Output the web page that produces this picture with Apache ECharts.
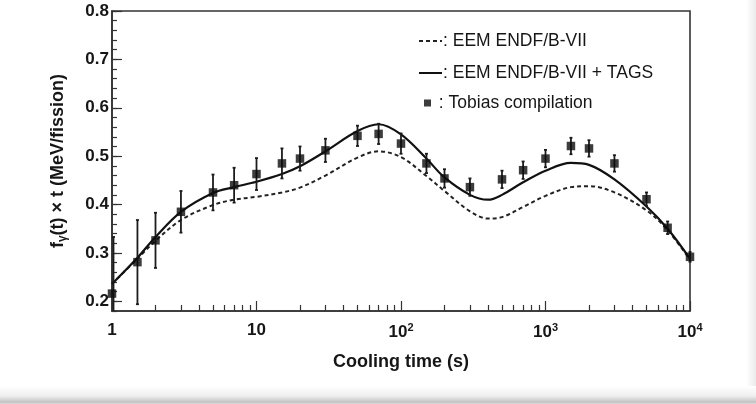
<!DOCTYPE html>
<html><head><meta charset="utf-8">
<script src="https://cdn.jsdelivr.net/npm/echarts@6/dist/echarts.min.js"></script>
<style>html,body{margin:0;padding:0;background:#fff}#c{width:756px;height:404px}</style>
</head><body><div id="c"></div>
<script>
// ---- data ----
const curveTimes = [1,1.5,2,3,5,7,10,15,20,30,50,70,100,150,200,300,400,500,700,1000,1500,2000,3000,5000,7000,10000];
const eemValues  = [0.236,0.288,0.325,0.368,0.399,0.410,0.416,0.425,0.435,0.460,0.497,0.510,0.498,0.459,0.428,0.386,0.371,0.374,0.395,0.418,0.436,0.438,0.425,0.388,0.347,0.286];
const tagsValues = [0.236,0.290,0.333,0.385,0.424,0.436,0.447,0.463,0.479,0.510,0.552,0.566,0.545,0.495,0.456,0.420,0.410,0.420,0.446,0.470,0.486,0.482,0.452,0.396,0.350,0.288];
const tobiasTimes  = [1,1.5,2,3,5,7,10,15,20,30,50,70,100,150,200,300,500,700,1000,1500,2000,3000,5000,7000,10000];
const tobiasValues = [0.216,0.281,0.326,0.385,0.425,0.440,0.463,0.485,0.495,0.512,0.542,0.546,0.526,0.485,0.454,0.436,0.452,0.471,0.495,0.521,0.516,0.485,0.411,0.352,0.292];
const tobiasErrors = [0.117,0.087,0.057,0.043,0.037,0.036,0.033,0.031,0.025,0.024,0.021,0.021,0.021,0.020,0.019,0.018,0.018,0.018,0.018,0.017,0.017,0.017,0.014,0.013,0.010];
const seriesNames = ['EEM ENDF/B-VII','EEM ENDF/B-VII + TAGS','Tobias compilation'];
const xMajorTicks = [1,10,100,1000,10000];
const xTickLabels = ['1','10','10{sup|2}','10{sup|3}','10{sup|4}'];
const xMinorTicks = [2,3,4,5,6,7,8,9,20,30,40,50,60,70,80,90,200,300,400,500,600,700,800,900,2000,3000,4000,5000,6000,7000,8000,9000];
const yMajorTicks = [0.2,0.3,0.4,0.5,0.6,0.7,0.8];
const yTickLabels = ['0.2','0.3','0.4','0.5','0.6','0.7','0.8'];
const yMinorTicks = [0.18,0.2,0.22,0.24,0.26,0.28,0.3,0.32,0.34,0.36,0.38,0.4,0.42,0.44,0.46,0.48,0.5,0.52,0.54,0.56,0.58,0.6,0.62,0.64,0.66,0.68,0.7,0.72,0.74,0.76,0.78,0.8];
const xTitle = 'Cooling time (s)';
const yTitle = 'f{sub|γ}(t) × t (MeV/fission)';

// ---- chart ----
const FONT = '"Liberation Sans", Arial, Helvetica, sans-serif';
const INK = '#161616';
const Y_MIN = 0.18, Y_MAX = 0.8;
const chart = echarts.init(document.getElementById('c'), null, {renderer: 'canvas'});

const eemData = curveTimes.map((t, i) => [t, eemValues[i]]);
const tagsData = curveTimes.map((t, i) => [t, tagsValues[i]]);
const tobiasData = tobiasTimes.map((t, i) => [t, tobiasValues[i], tobiasErrors[i]]);

const xLabelMap = {};
xMajorTicks.forEach((v, i) => { xLabelMap[v] = xTickLabels[i]; });
const yLabelMap = {};
yMajorTicks.forEach((v, i) => { yLabelMap[v.toFixed(1)] = yTickLabels[i]; });

const option = {
  animation: false,
  backgroundColor: '#ffffff',
  textStyle: {fontFamily: FONT},
  grid: {left: 112, right: 66, top: 11, bottom: 93, show: true, borderColor: '#333333', borderWidth: 1.6, backgroundColor: 'transparent'},
  legend: [
    {
      data: [seriesNames[0], seriesNames[1]],
      orient: 'vertical', left: 413, top: 27, itemWidth: 23, itemHeight: 12, itemGap: 14,
      formatter: ': {name}', selectedMode: false,
      itemStyle: {opacity: 0},
      textStyle: {fontFamily: FONT, fontSize: 17.5, color: INK, padding: [0,0,0,-4]}
    },
    {
      data: [seriesNames[2]],
      orient: 'vertical', left: 419, top: 89, itemWidth: 7, itemHeight: 7,
      formatter: ' : {name}', selectedMode: false,
      textStyle: {fontFamily: FONT, fontSize: 17.5, color: INK, padding: [0,0,0,-2]}
    }
  ],
  xAxis: [
    {
      type: 'log', logBase: 10, min: 1, max: 10000,
      name: xTitle, nameLocation: 'middle', nameGap: 42,
      nameTextStyle: {fontFamily: FONT, fontSize: 18, fontWeight: 'bold', color: INK},
      axisLine: {show: true, lineStyle: {color: '#333333', width: 1.6}},
      axisTick: {show: true, inside: true, length: 10, customValues: xMajorTicks, lineStyle: {color: '#333333', width: 1.2}},
      axisLabel: {
        show: true, margin: 11, customValues: xMajorTicks,
        fontFamily: FONT, fontSize: 17, fontWeight: 'bold', color: INK,
        formatter: v => xLabelMap[Math.round(v)] || '',
        rich: {sup: {fontFamily: FONT, fontSize: 11, fontWeight: 'bold', color: INK, verticalAlign: 'top', padding: [0,0,9,0]}}
      },
      splitLine: {show: false}, minorTick: {show: false}
    },
    {
      type: 'log', logBase: 10, min: 1, max: 10000, position: 'bottom',
      axisLine: {show: false},
      axisTick: {show: true, inside: true, length: 6, customValues: xMinorTicks, lineStyle: {color: '#333333', width: 1.2}},
      axisLabel: {show: false}, splitLine: {show: false}
    }
  ],
  yAxis: [
    {
      type: 'value', min: Y_MIN, max: Y_MAX, interval: 0.02,
      name: yTitle, nameLocation: 'middle', nameGap: 43, nameRotate: 90,
      nameTextStyle: {fontFamily: FONT, fontSize: 18, fontWeight: 'bold', color: INK,
        rich: {sub: {fontFamily: FONT, fontSize: 12, fontWeight: 'bold', color: INK, padding: [9,0,0,0]}}},
      axisLine: {show: true, lineStyle: {color: '#333333', width: 1.6}},
      axisTick: {show: true, inside: true, length: 10, customValues: yMajorTicks, lineStyle: {color: '#333333', width: 1.2}},
      axisLabel: {show: true, margin: 3, customValues: yMajorTicks,
        fontFamily: FONT, fontSize: 17, fontWeight: 'bold', color: INK,
        formatter: v => yLabelMap[(+v).toFixed(1)] || ''},
      splitLine: {show: false}
    },
    {
      type: 'value', min: Y_MIN, max: Y_MAX, interval: 0.02, position: 'left',
      axisLine: {show: false},
      axisTick: {show: true, inside: true, length: 5, customValues: yMinorTicks, lineStyle: {color: '#333333', width: 1.2}},
      axisLabel: {show: false}, splitLine: {show: false}
    }
  ],
  series: [
    {
      name: seriesNames[0], type: 'line', data: eemData, smooth: 0.35, symbol: 'none', showSymbol: false,
      lineStyle: {color: '#222222', width: 2, type: [4, 3]}, itemStyle: {color: '#222222'}, z: 3
    },
    {
      name: seriesNames[1], type: 'line', data: tagsData, smooth: 0.35, symbol: 'none', showSymbol: false,
      lineStyle: {color: '#111111', width: 2.2}, itemStyle: {color: '#111111'}, z: 3
    },
    {
      name: 'errors', type: 'custom', data: tobiasData, z: 4,
      encode: {x: 0, y: 1},
      renderItem: function (params, api) {
        const x = api.value(0), y = api.value(1), e = api.value(2);
        const hi = Math.min(y + e, Y_MAX), lo = Math.max(y - e, Y_MIN);
        const p1 = api.coord([x, hi]), p2 = api.coord([x, lo]);
        const cx = Math.max(p1[0], params.coordSys.x + 1.5);
        const style = {stroke: '#1c1c1c', lineWidth: 1.8};
        const kids = [
          {type: 'line', shape: {x1: cx, y1: p1[1], x2: cx, y2: p2[1]}, style: style},
          {type: 'line', shape: {x1: cx - 1.5, y1: p1[1], x2: cx + 1.5, y2: p1[1]}, style: style}
        ];
        if (lo > Y_MIN) kids.push({type: 'line', shape: {x1: cx - 1.5, y1: p2[1], x2: cx + 1.5, y2: p2[1]}, style: style});
        return {type: 'group', children: kids};
      }
    },
    {
      name: seriesNames[2], type: 'scatter', data: tobiasData.map(d => [d[0], d[1]]), symbol: 'rect', symbolSize: 8.5,
      itemStyle: {color: '#0d0d0d'}, z: 5
    }
  ],
  graphic: [
    {type: 'rect', left: 0, top: 386, shape: {width: 756, height: 18}, silent: true, z: -10,
     style: {fill: new echarts.graphic.LinearGradient(0, 0, 0, 1, [
       {offset: 0, color: '#ffffff'}, {offset: 0.55, color: '#efefef'}, {offset: 0.8, color: '#cfcfcf'}, {offset: 0.9, color: '#c0c0c0'}, {offset: 1, color: '#e0e0e0'}])}},
    {type: 'rect', left: 746, top: 0, shape: {width: 10, height: 404}, silent: true, z: -11,
     style: {fill: new echarts.graphic.LinearGradient(0, 0, 1, 0, [
       {offset: 0, color: '#ffffff'}, {offset: 1, color: '#ebebeb'}])}}
  ]
};
chart.setOption(option);
</script>
</body></html>
